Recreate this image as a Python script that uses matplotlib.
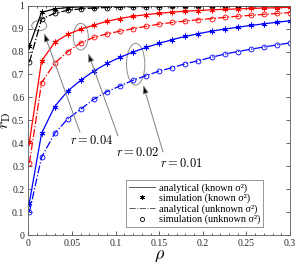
import numpy as np
import matplotlib
matplotlib.use("Agg")
import matplotlib.pyplot as plt
from matplotlib.patches import Ellipse
from matplotlib.lines import Line2D
import matplotlib.ticker as mticker

plt.rcParams["font.family"] = ["Liberation Serif", "DejaVu Serif"]
plt.rcParams["mathtext.fontset"] = "cm"

rho = [0.001, 0.015, 0.03, 0.045, 0.06, 0.075, 0.09, 0.105, 0.12, 0.135, 0.15,
       0.165, 0.18, 0.195, 0.21, 0.225, 0.24, 0.255, 0.27, 0.285, 0.3]

# r = 0.04 (black)
known_004 = [0.824, 0.971, 0.986, 0.992, 0.995, 0.996, 0.997, 0.998, 0.998, 0.999, 0.999,
             0.999, 0.999, 1.0, 1.0, 1.0, 1.0, 1.0, 1.0, 1.0, 1.0]
unknown_004 = [0.753, 0.942, 0.967, 0.980, 0.986, 0.990, 0.992, 0.994, 0.995, 0.996, 0.996,
               0.997, 0.997, 0.998, 0.998, 0.998, 0.998, 0.999, 0.999, 0.999, 0.999]
# r = 0.02 (red)
known_002 = [0.404, 0.759, 0.840, 0.875, 0.898, 0.915, 0.932, 0.944, 0.954, 0.961, 0.967,
             0.972, 0.976, 0.979, 0.982, 0.984, 0.986, 0.988, 0.990, 0.991, 0.993]
unknown_002 = [0.313, 0.664, 0.749, 0.800, 0.838, 0.862, 0.877, 0.889, 0.900, 0.910, 0.920,
               0.927, 0.933, 0.939, 0.944, 0.949, 0.954, 0.958, 0.962, 0.966, 0.970]
# r = 0.01 (blue)
known_001 = [0.141, 0.443, 0.560, 0.628, 0.675, 0.715, 0.748, 0.775, 0.798, 0.818, 0.836,
             0.852, 0.866, 0.878, 0.889, 0.898, 0.906, 0.914, 0.921, 0.928, 0.934]
unknown_001 = [0.100, 0.339, 0.443, 0.506, 0.549, 0.592, 0.625, 0.650, 0.675, 0.695, 0.715,
               0.730, 0.747, 0.760, 0.775, 0.789, 0.800, 0.810, 0.820, 0.829, 0.838]

series = [
    ("k", known_004, unknown_004),
    ("r", known_002, unknown_002),
    ("b", known_001, unknown_001),
]

ASTERISK = (6, 2, 0)

fig = plt.figure(figsize=(2.98, 2.64), dpi=100)
ax = fig.add_axes([0.0956, 0.1098, 0.8774, 0.8686])

for color, known, unknown in series:
    ax.plot(rho, known, "-", color=color, lw=0.9)
    ax.plot(rho, known, ls="none", marker=ASTERISK, ms=4.2, mew=0.6, color=color)
    ax.plot(rho, unknown, "-.", color=color, lw=0.9)
    ax.plot(rho, unknown, ls="none", marker="o", ms=3.5, mew=0.6, mfc="none", color=color)

# ellipses, arrows and labels for each r
notes = [
    ("$r = 0.04$", (0.0123, 0.913), 0.0172, 0.044, (0.0178, 0.880), (0.059, 0.449), (0.0729, 0.414)),
    ("$r = 0.02$", (0.060, 0.865), 0.0172, 0.116, (0.0686, 0.792), (0.1027, 0.432), (0.1256, 0.362)),
    ("$r = 0.01$", (0.123, 0.745), 0.021, 0.182, (0.1317, 0.654), (0.1543, 0.362), (0.176, 0.314)),
]
for label, centre, w, h, tip, tail, txt in notes:
    ax.add_patch(Ellipse(centre, w, h, fill=False, ec="0.55", lw=0.7))
    ax.annotate("", xy=tip, xytext=tail,
                arrowprops=dict(arrowstyle="-|>,head_length=0.5,head_width=0.18",
                                ec="0.5", fc="k", lw=0.7, shrinkA=0, shrinkB=0))
    ax.text(txt[0], txt[1], label, fontsize=9, ha="center", va="center")

handles = [
    Line2D([], [], color="0.35", lw=0.7, ls="-"),
    Line2D([], [], color="k", ls="none", marker=ASTERISK, ms=3.5, mew=0.6),
    Line2D([], [], color="0.35", lw=0.7, ls="-."),
    Line2D([], [], color="k", ls="none", marker="o", ms=3, mew=0.6, mfc="none"),
]
labels = [
    "analytical (known σ²)",
    "simulation (known σ²)",
    "analytical (unknown σ²)",
    "simulation (unknown σ²)",
]
leg = ax.legend(handles, labels, loc="lower right", bbox_to_anchor=(0.897, 0.035),
                fontsize=7.3, frameon=True, fancybox=False, edgecolor="0.4",
                handlelength=2.6, handletextpad=0.4, borderpad=0.25, labelspacing=0.1,
                borderaxespad=0)
leg.get_frame().set_linewidth(0.6)

ax.set_xlim(0, 0.3)
ax.set_ylim(0, 1)
ax.set_xticks([0, 0.05, 0.1, 0.15, 0.2, 0.25, 0.3])
ax.set_xticklabels(["0", "0.05", "0.1", "0.15", "0.2", "0.25", "0.3"])
ax.set_yticks(np.round(np.arange(0, 1.01, 0.1), 1))
ax.set_yticklabels(["0", "0.1", "0.2", "0.3", "0.4", "0.5", "0.6", "0.7", "0.8", "0.9", "1"])
ax.xaxis.set_minor_locator(mticker.MultipleLocator(0.01))
ax.tick_params(which="both", direction="in", top=True, right=True, labelsize=7,
               colors="0.15", width=0.5, pad=3)
ax.tick_params(which="major", length=3)
ax.tick_params(which="minor", length=1.5)
for s in ax.spines.values():
    s.set_linewidth(0.6)
    s.set_color("0.35")

ax.set_xlabel(r"$\rho$", fontsize=13, labelpad=-1)
ax.set_ylabel(r"$r_{\rm D}$", fontsize=11.5)
ax.yaxis.set_label_coords(-0.058, 0.5)

fig.savefig("out.png", dpi=100)
